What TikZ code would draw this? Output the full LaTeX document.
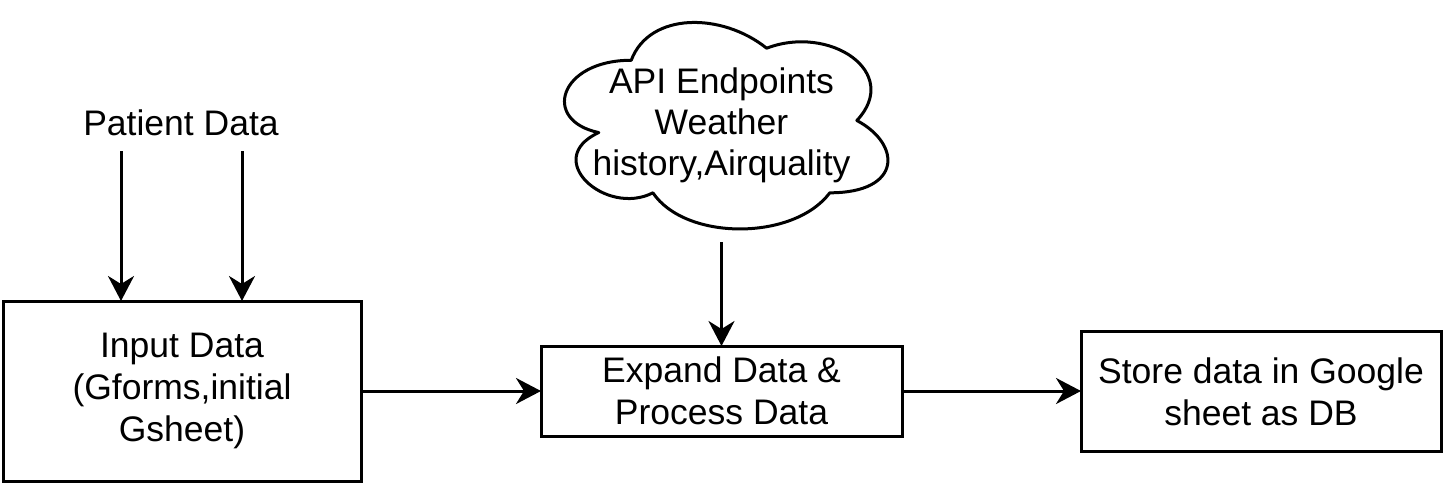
\documentclass[tikz,border=0pt]{standalone}
\usepackage{fontspec}
\setmainfont{Liberation Sans}
\usetikzlibrary{arrows.meta}
\tikzset{
  box/.style={draw=black, line width=3pt, align=center, inner sep=0pt, outer sep=0pt,
    font=\fontsize{35.5}{42}\selectfont},
  txt/.style={align=center, inner sep=0pt, font=\fontsize{35.5}{41}\selectfont},
  conn/.style={line width=3pt, -{Stealth[length=25pt, width=26pt, inset=8pt]}},
}
\begin{document}
\begin{tikzpicture}[x=1pt, y=-1pt]
\useasboundingbox (0,0) rectangle (1443,483);
% nodes
\node[box, minimum width=358pt, minimum height=180pt] (in) at (182,391) {\raisebox{-3pt}{\begin{tabular}{@{}c@{}}Input Data\\(Gforms,initial\\Gsheet)\end{tabular}}};
\node[box, minimum width=361pt, minimum height=90pt] (ex) at (721.5,391) {Expand Data \&\\Process Data};
\node[box, minimum width=360pt, minimum height=120pt] (st) at (1261,391.5) {Store data in Google\\sheet as DB};
\node[txt] (pd) at (181,123) {Patient Data};
% cloud
\draw[line width=3pt, line join=round] (631.25,60.25)
  .. controls (559.05,60.25) and (541,120.5) .. (598.76,132.55)
  .. controls (541,159.06) and (605.98,216.9) .. (652.91,192.8)
  .. controls (685.4,241) and (793.7,241) .. (829.8,192.8)
  .. controls (902,192.8) and (902,144.6) .. (856.875,120.5)
  .. controls (902,72.3) and (829.8,24.1) .. (766.625,48.2)
  .. controls (721.5,12.05) and (649.3,12.05) .. (631.25,60.25) -- cycle;
\node[txt, minimum width=361pt, minimum height=241pt, outer sep=0pt] (cl) at (721.5,121.5) {};
\node[txt] (cltext) at (721.5,125) {API Endpoints\\Weather\\history,Airquality};
% connector start points
\coordinate (p1) at (121,151);
\coordinate (p2) at (242,151);
% connectors
\draw[conn] (p1) -- (p1 |- in.north);
\draw[conn] (p2) -- (p2 |- in.north);
\draw[conn] (cl.south) -- (ex.north);
\draw[conn] (in.east |- ex.west) -- (ex.west);
\draw[conn] (ex.east) -- (ex.east -| st.west);
\end{tikzpicture}
\end{document}
